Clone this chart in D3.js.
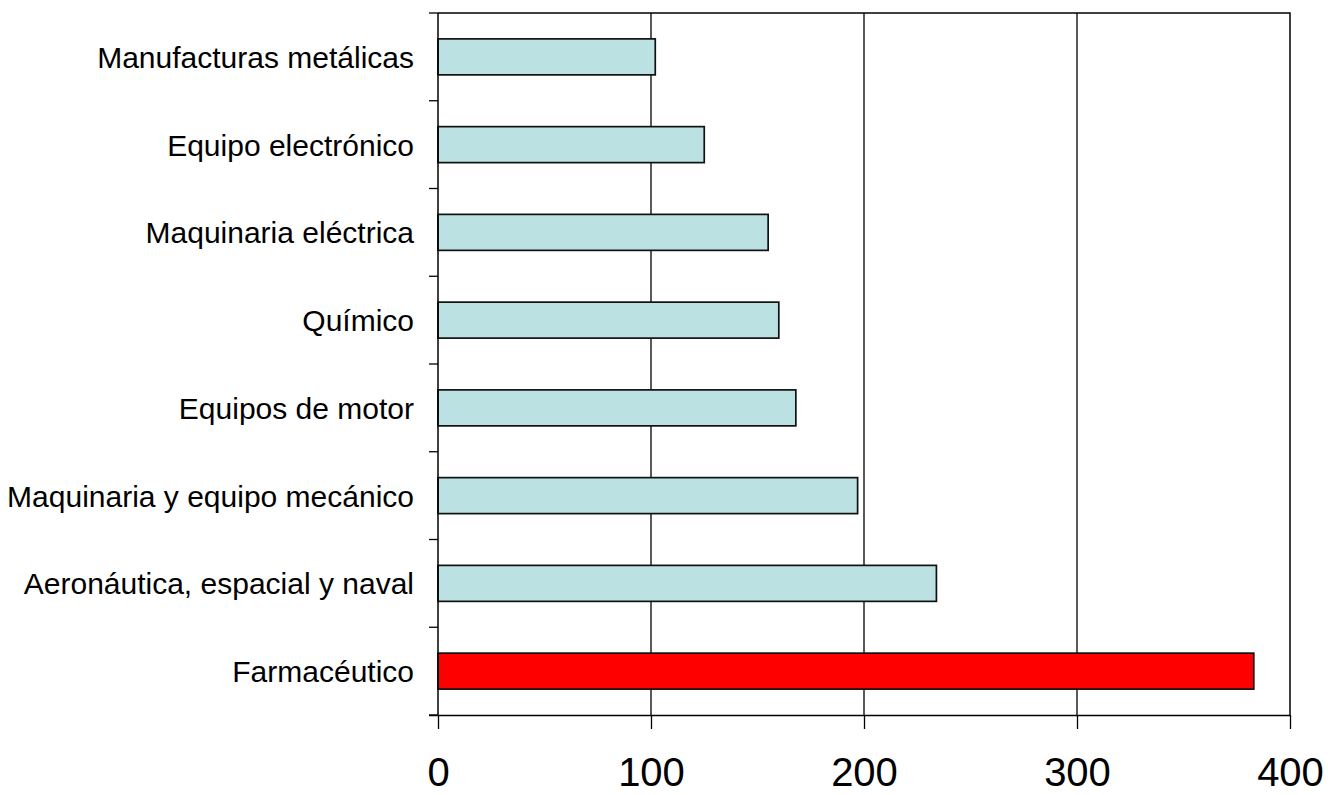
<!DOCTYPE html>
<html>
<head>
<meta charset="utf-8">
<script src="https://cdn.jsdelivr.net/npm/d3@7"></script>
<style>
  body { margin: 0; background: #fff; }
  text { font-family: "Liberation Sans", Arial, sans-serif; fill: #000; }
</style>
</head>
<body>
<script>
// categories top to bottom
var sectors = [
  "Manufacturas metálicas",
  "Equipo electrónico",
  "Maquinaria eléctrica",
  "Químico",
  "Equipos de motor",
  "Maquinaria y equipo mecánico",
  "Aeronáutica, espacial y naval",
  "Farmacéutico"
];
var values = [102, 125, 155, 160, 168, 197, 234, 383];
var xTicks = [0, 100, 200, 300, 400];
var highlight = "Farmacéutico";

var width = 1328,
    height = 795;
var margin = {top: 13, right: 38, bottom: 80, left: 438};

var svg = d3.select("body").append("svg")
    .attr("width", width)
    .attr("height", height);

var x = d3.scaleLinear()
    .domain([0, 400])
    .range([margin.left, width - margin.right]);

var y = d3.scaleBand()
    .domain(sectors)
    .range([margin.top, height - margin.bottom]);

var barH = y.bandwidth() * 0.41;

// gridlines
svg.append("g")
  .selectAll("line")
  .data(xTicks.filter(d => d > 0 && d < 400))
  .enter().append("line")
    .attr("x1", d => x(d)).attr("x2", d => x(d))
    .attr("y1", y.range()[0]).attr("y2", y.range()[1])
    .attr("stroke", "#000")
    .attr("stroke-width", 1.3);

// top + right frame
svg.append("path")
    .attr("d", `M${x(0)},${y.range()[0]}H${x(400)}V${y.range()[1]}`)
    .attr("fill", "none")
    .attr("stroke", "#000")
    .attr("stroke-width", 1.5);

// bars
svg.append("g")
  .selectAll("rect")
  .data(sectors)
  .enter().append("rect")
    .attr("x", x(0))
    .attr("y", d => y(d) + (y.bandwidth() - barH) / 2)
    .attr("width", (d, i) => x(values[i]) - x(0))
    .attr("height", barH)
    .attr("fill", d => d === highlight ? "#ff0000" : "#bce1e3")
    .attr("stroke", "#111")
    .attr("stroke-width", 1.7);

// left axis: ticks at band edges
var edges = sectors.map(d => y(d)).concat([y.range()[1]]);
var left = svg.append("g");
left.append("line")
    .attr("x1", x(0)).attr("x2", x(0))
    .attr("y1", y.range()[0]).attr("y2", y.range()[1])
    .attr("stroke", "#000").attr("stroke-width", 1.5);
left.selectAll("line.tick")
  .data(edges)
  .enter().append("line")
    .attr("class", "tick")
    .attr("x1", x(0) - 9).attr("x2", x(0))
    .attr("y1", d => d).attr("y2", d => d)
    .attr("stroke", "#000").attr("stroke-width", 1.3);
left.selectAll("text")
  .data(sectors)
  .enter().append("text")
    .attr("x", x(0) - 24)
    .attr("y", d => y(d) + y.bandwidth() / 2)
    .attr("dy", "0.37em")
    .attr("text-anchor", "end")
    .style("font-size", "30px")
    .text(d => d);

// bottom axis
svg.append("g")
    .attr("transform", `translate(0,${y.range()[1]})`)
    .call(d3.axisBottom(x)
      .tickValues(xTicks)
      .tickSize(14)
      .tickSizeOuter(0)
      .tickPadding(0))
    .call(g => g.select(".domain")
      .attr("d", `M${x(0) - 9},0.5H${x(400)}`)
      .attr("stroke-width", 1.5))
    .call(g => g.selectAll(".tick line").attr("stroke-width", 1.3))
    .call(g => g.selectAll(".tick text")
      .attr("y", 71)
      .attr("dy", null)
      .style("font-size", "40px")
      .style("font-family", "'Liberation Sans', Arial, sans-serif"));
</script>
</body>
</html>
